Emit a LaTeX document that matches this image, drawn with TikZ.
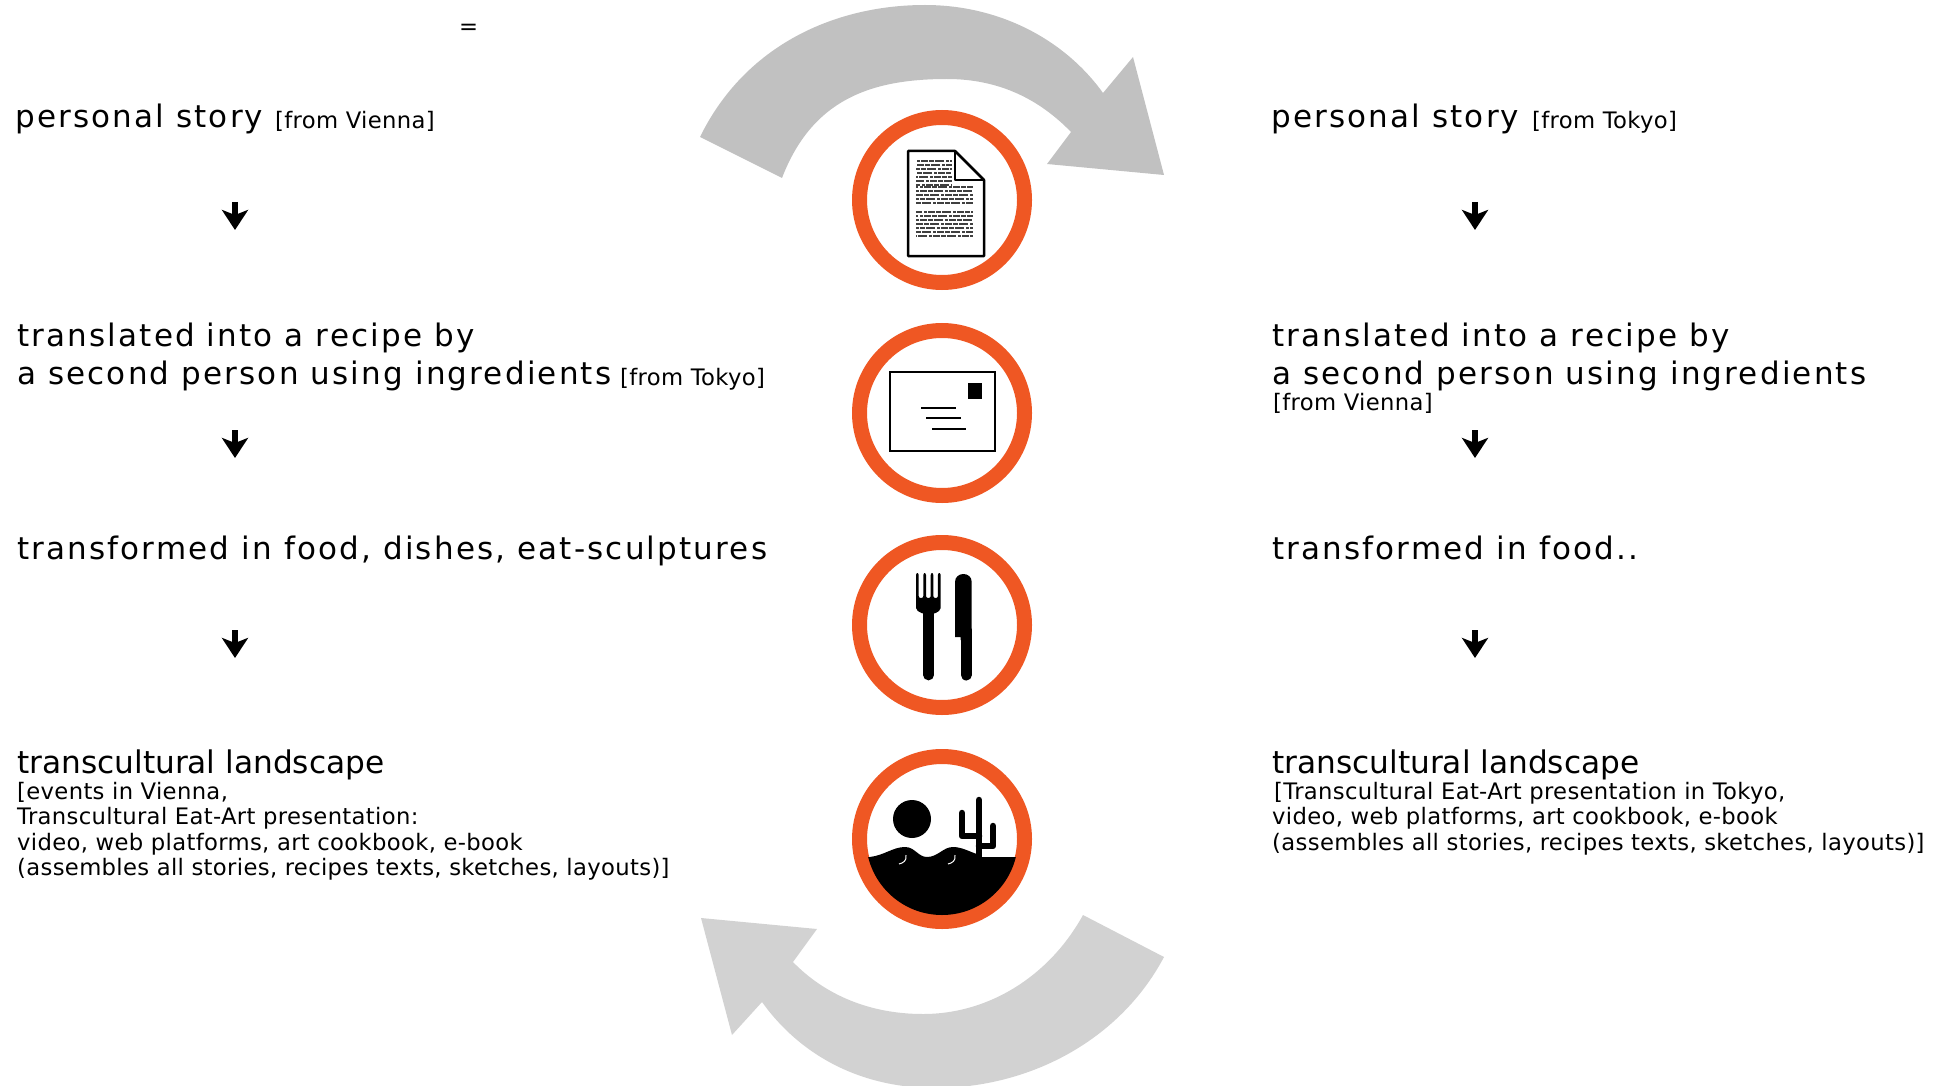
\documentclass[tikz,border=0pt]{standalone}
\usepackage{fontspec}
\usetikzlibrary{arrows.meta}
\setmainfont{DejaVu Sans}
\newfontfamily\bigfont[LetterSpace=7]{DejaVu Sans}
\newfontfamily\smallfont[LetterSpace=1.5]{DejaVu Sans}
\definecolor{ringorange}{HTML}{EF5723}
\definecolor{topgray}{HTML}{C1C1C1}
\definecolor{bottomgray}{HTML}{D2D2D2}
\tikzset{
	bigtext/.style={anchor=base west,inner sep=0pt,font=\fontsize{31}{31}\selectfont\bigfont},
	titletext/.style={anchor=base west,inner sep=0pt,font=\fontsize{31.2}{31}\selectfont},
	smalltext/.style={anchor=base west,inner sep=0pt,font=\fontsize{22.7}{22}\selectfont\smallfont},
	ring/.style={circle,draw=ringorange,line width=15pt,minimum size=165pt,inner sep=0pt},
	steparrow/.style={line width=6.5pt,-{Stealth[length=20pt,width=26pt,inset=5pt]}},
	sheetline/.style={line width=1.3pt,black!75,dash pattern=on 5pt off 1pt on 9pt off 2pt on 3pt off 1pt on 7pt off 1pt},
}
\begin{document}
\begin{tikzpicture}[x=1pt,y=-1pt]
	\useasboundingbox (0,0) rectangle (1948,1086);
	% the two grey arrows
	\fill[topgray] (700,137) .. controls (745,45) and (835,5) .. (925,5)
		.. controls (1000,5) and (1065,40) .. (1103,93) -- (1133,57) -- (1164,175) -- (1047,164) -- (1071,132)
		.. controls (1040,100) and (1000,79) .. (947,79) .. controls (870,79) and (812,100) .. (782,178) -- cycle;
	\fill[bottomgray] (1164,957) .. controls (1120,1040) and (1030,1088) .. (935,1088)
		.. controls (860,1088) and (800,1055) .. (762,1002) -- (732,1035) -- (701,918) -- (817,929) -- (793,962)
		.. controls (825,995) and (870,1014) .. (923,1014) .. controls (990,1014) and (1050,975) .. (1083,915) -- cycle;
	% the four rings
	\node[ring] (storyring) at (942,200) {};
	\node[ring] (letterring) at (942,413) {};
	\node[ring] (foodring) at (942,625) {};
	\node[ring] (landring) at (942,839) {};
	% the sheet
	\draw[line width=2.5pt,line join=round] (908,151) -- (955,151) -- (984,180) -- (984,256) -- (908,256) -- cycle;
	\draw[line width=2.5pt,line join=round] (955,151) -- (955,180) -- (984,180);
	\foreach \y in {161,165,...,185}
		\draw[sheetline,dash phase=\y pt] (916,\y) -- (952,\y);
	\foreach \y in {187,191,...,205,212,216,...,238}
		\draw[sheetline,dash phase=\y pt] (916,\y) -- (973,\y);
	% the envelope
	\draw[line width=2.5pt] (890,372) rectangle (995,451);
	\fill (968,383) rectangle (982,399);
	\draw[line width=2.2pt] (921,408) -- (956,408);
	\draw[line width=2.2pt] (926,418) -- (961,418);
	\draw[line width=2.2pt] (932,429) -- (966,429);
	% fork and knife
	\fill[rounded corners=2pt] (916,573) -- (918.7,573) -- (918.7,598) -- (923.3,598) -- (923.3,573) -- (926,573) -- (926,598) -- (930.7,598) -- (930.7,573) -- (933.3,573) -- (933.3,598) -- (937.9,598) -- (937.9,573) -- (940.7,573) -- (940.7,610) -- (934,614) -- (923.3,614) -- (916,610) -- cycle;
	\draw[line width=10.7pt,line cap=round] (928.6,610) -- (928.6,675);
	\fill (955,582) .. controls (955,577) and (959,574) .. (963.4,574) .. controls (968,574) and (971.7,577) .. (971.7,582) -- (971.7,640) -- (960.7,640) -- (960.7,637) -- (955,637) -- cycle;
	\draw[line width=11pt,line cap=round] (966.2,630) -- (966.2,675);
	% the desert
	\begin{scope}
		\clip (942,839) circle (76pt);
		\fill (860,857) -- (870,857) .. controls (885,855) and (893,847) .. (905,847) .. controls (915,847) and (918,857) .. (927,857) .. controls (938,857) and (943,847) .. (953,847) .. controls (962,847) and (970,852) .. (977,854) -- (977,857) -- (1020,857) -- (1020,930) -- (860,930) -- cycle;
	\end{scope}
	\fill (912,819) circle (19pt);
	\draw[line width=6.5pt,line cap=round] (979,800) -- (979,857);
	\draw[line width=6.5pt,line cap=round,line join=round] (962,813) -- (962,836) -- (979,836);
	\draw[line width=6.5pt,line cap=round,line join=round] (993,826) -- (993,846) -- (979,846);
	\draw[white,line width=1pt] (906,855) .. controls (907,861) and (903,863) .. (899,864);
	\draw[white,line width=1pt] (955,855) .. controls (956,861) and (952,863) .. (948,864);
	% left column
	\node[smalltext] (equal) at (459,35) {=};
	\node[bigtext] (lstory) at (15,128) {personal story};
	\node[smalltext] (lstoryfrom) at (275,129) {[from Vienna]};
	\node[bigtext] (lrecipeone) at (17,346) {translated into a recipe by};
	\node[bigtext] (lrecipetwo) at (17,384) {a second person using ingredients};
	\node[smalltext] (lrecipefrom) at (620,385) {[from Tokyo]};
	\node[bigtext] (lfood) at (17,559) {transformed in food, dishes, eat-sculptures};
	\node[titletext] (lland) at (17,773) {transcultural landscape};
	\node[smalltext] (llandone) at (17,799) {[events in Vienna,};
	\node[smalltext] (llandtwo) at (17,824) {Transcultural Eat-Art presentation:};
	\node[smalltext] (llandthree) at (17,850) {video, web platforms, art cookbook, e-book};
	\node[smalltext] (llandfour) at (17,875) {(assembles all stories, recipes texts, sketches, layouts)]};
	% right column
	\node[bigtext] (rstory) at (1271,128) {personal story};
	\node[smalltext] (rstoryfrom) at (1532,129) {[from Tokyo]};
	\node[bigtext] (rrecipeone) at (1272,346) {translated into a recipe by};
	\node[bigtext] (rrecipetwo) at (1272,384) {a second person using ingredients};
	\node[smalltext] (rrecipefrom) at (1273,410) {[from Vienna]};
	\node[bigtext] (rfood) at (1272,559) {transformed in food..};
	\node[titletext] (rland) at (1272,773) {transcultural landscape};
	\node[smalltext] (rlandone) at (1274,799) {[Transcultural Eat-Art presentation in Tokyo,};
	\node[smalltext] (rlandtwo) at (1272,824) {video, web platforms, art cookbook, e-book};
	\node[smalltext] (rlandthree) at (1272,850) {(assembles all stories, recipes texts, sketches, layouts)]};
	% the small arrows
	\foreach \n/\x in {l/235,r/1475}
		\foreach \i/\y in {1/202,2/430,3/630}{
			\coordinate (\n top\i) at (\x,\y);
			\coordinate (\n bot\i) at (\x,\y+28);
			\draw[steparrow] (\n top\i) -- (\n bot\i);
		}
\end{tikzpicture}
\end{document}
